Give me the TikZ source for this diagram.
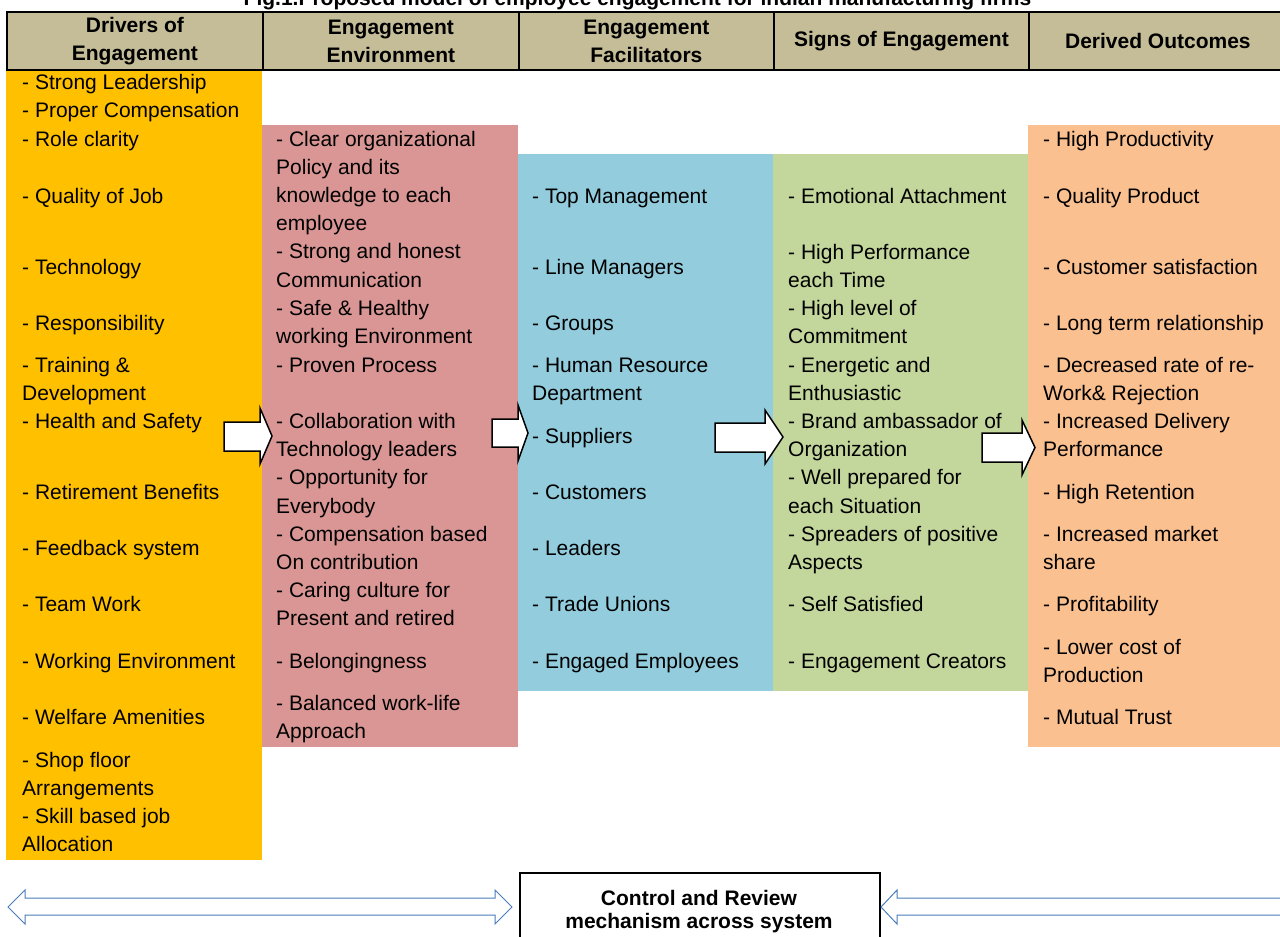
\documentclass[tikz,border=0pt]{standalone}
\usepackage{fontspec}
\setmainfont{Liberation Sans}
\definecolor{hdrtan}{HTML}{C4BD97}
\definecolor{colorange}{HTML}{FFC000}
\definecolor{colpink}{HTML}{D99694}
\definecolor{colblue}{HTML}{93CDDD}
\definecolor{colgreen}{HTML}{C3D69B}
\definecolor{colpeach}{HTML}{FAC090}
\definecolor{outlineblue}{HTML}{4A7EBB}
\tikzset{
  item/.style={anchor=base west, inner sep=0pt, font=\fontsize{21}{28}\selectfont},
  hdrcell/.style={draw=black, line width=1.8pt, fill=hdrtan, anchor=north west,
    minimum height=58pt, inner sep=0pt, align=center,
    font=\bfseries\fontsize{21}{28}\selectfont},
  blockarrow/.style={fill=white, draw=black, line width=1.5pt},
  flowarrow/.style={fill=white, draw=outlineblue, line width=1pt},
  ctrltext/.style={anchor=base, inner sep=0pt, font=\bfseries\fontsize{21}{23}\selectfont}
}
\begin{document}
\begin{tikzpicture}[x=1pt,y=-1pt]
\useasboundingbox (0,0) rectangle (1280,937);
\clip (0,0) rectangle (1280,937);
\fill[white] (0,0) rectangle (1280,937);

% title (partly above the page edge)
\node[anchor=base, inner sep=0pt, font=\bfseries\fontsize{21}{25}\selectfont] (title) at (637.5,5)
  {Fig.1.Proposed model of employee engagement for indian manufacturing firms};

% column backgrounds
\fill[colorange] (6,69) rectangle (262,860);
\fill[colpink]   (262,125) rectangle (518,747);
\fill[colblue]   (518,154) rectangle (773,691);
\fill[colgreen]  (773,154) rectangle (1028,691);
\fill[colpeach]  (1028,125) rectangle (1282,747);

% header row
\node[hdrcell, minimum width=256pt] (h1) at (6,11) {Drivers of\\Engagement};
\node[hdrcell, minimum width=256pt] (h2) at (262,11) {Engagement\\Environment};
\node[hdrcell, minimum width=255pt] (h3) at (518,11) {Engagement\\Facilitators};
\node[hdrcell, minimum width=255pt] (h4) at (773,11) {Signs of Engagement};
\node[hdrcell, minimum width=258pt] (h5) at (1028,11) {Derived Outcomes};

% drivers of engagement
\foreach \y/\t [count=\i] in {
  89/{- Strong Leadership}, 117/{- Proper Compensation}, 146/{- Role clarity},
  203/{- Quality of Job}, 274/{- Technology}, 330/{- Responsibility},
  372/{- Training \&}, 400/{Development}, 428/{- Health and Safety},
  499/{- Retirement Benefits}, 555/{- Feedback system}, 611/{- Team Work},
  668/{- Working Environment}, 724/{- Welfare Amenities}, 767/{- Shop floor},
  795/{Arrangements}, 823/{- Skill based job}, 851/{Allocation}}
  \node[item] (c1-\i) at (22,\y) {\t};

% engagement environment
\foreach \y/\t [count=\i] in {
  146/{- Clear organizational}, 174/{Policy and its}, 202/{knowledge to each},
  230/{employee}, 258/{- Strong and honest}, 287/{Communication},
  315/{- Safe \& Healthy}, 343/{working Environment}, 372/{- Proven Process},
  428/{- Collaboration with}, 456/{Technology leaders}, 484/{- Opportunity for},
  513/{Everybody}, 541/{- Compensation based}, 569/{On contribution},
  597/{- Caring culture for}, 625/{Present and retired}, 668/{- Belongingness},
  710/{- Balanced work-life}, 738/{Approach}}
  \node[item] (c2-\i) at (276,\y) {\t};

% engagement facilitators
\foreach \y/\t [count=\i] in {
  203/{- Top Management}, 274/{- Line Managers}, 330/{- Groups},
  372/{- Human Resource}, 400/{Department}, 443/{- Suppliers},
  499/{- Customers}, 555/{- Leaders}, 611/{- Trade Unions},
  668/{- Engaged Employees}}
  \node[item] (c3-\i) at (532,\y) {\t};

% signs of engagement
\foreach \y/\t [count=\i] in {
  203/{- Emotional Attachment}, 259/{- High Performance}, 287/{each Time},
  315/{- High level of}, 343/{Commitment}, 372/{- Energetic and},
  400/{Enthusiastic}, 428/{- Brand ambassador of}, 456/{Organization},
  484/{- Well prepared for}, 513/{each Situation}, 541/{- Spreaders of positive},
  569/{Aspects}, 611/{- Self Satisfied}, 668/{- Engagement Creators}}
  \node[item] (c4-\i) at (788,\y) {\t};

% derived outcomes
\foreach \y/\t [count=\i] in {
  146/{- High Productivity}, 203/{- Quality Product}, 274/{- Customer satisfaction},
  330/{- Long term relationship}, 372/{- Decreased rate of re-}, 400/{Work\& Rejection},
  428/{- Increased Delivery}, 456/{Performance}, 499/{- High Retention},
  541/{- Increased market}, 569/{share}, 611/{- Profitability},
  654/{- Lower cost of}, 682/{Production}, 724/{- Mutual Trust}}
  \node[item] (c5-\i) at (1043,\y) {\t};

% block arrows between the stages
\path[blockarrow] (224,422) -- (260,422) -- (260,408) -- (272,436) -- (260,464) -- (260,451) -- (224,451) -- cycle;
\path[blockarrow] (492,419) -- (518,419) -- (518,405) -- (528,433) -- (518,461) -- (518,447) -- (492,447) -- cycle;
\path[blockarrow] (715,423) -- (765,423) -- (765,410) -- (783,437) -- (765,464) -- (765,452) -- (715,452) -- cycle;
\path[blockarrow] (982,433) -- (1022,433) -- (1022,420) -- (1035,447.5) -- (1022,475) -- (1022,462) -- (982,462) -- cycle;

% control and review box
\node[draw=black, line width=1.8pt, fill=white, anchor=north west,
  minimum width=360pt, minimum height=90pt, inner sep=0pt] (ctrl) at (519,872) {};
\node[ctrltext] (ctrl-a) at (699,905) {Control and Review};
\node[ctrltext] (ctrl-b) at (699,928) {mechanism across system};

% feedback arrows along the bottom
\path[flowarrow] (8,907) -- (25,890) -- (25,898) -- (495,898) -- (495,890) -- (512,907)
  -- (495,924) -- (495,915) -- (25,915) -- (25,924) -- cycle;
\path[flowarrow] (881,907) -- (897,890) -- (897,898) -- (1290,898) -- (1290,915)
  -- (897,915) -- (897,924) -- cycle;
\end{tikzpicture}
\end{document}
